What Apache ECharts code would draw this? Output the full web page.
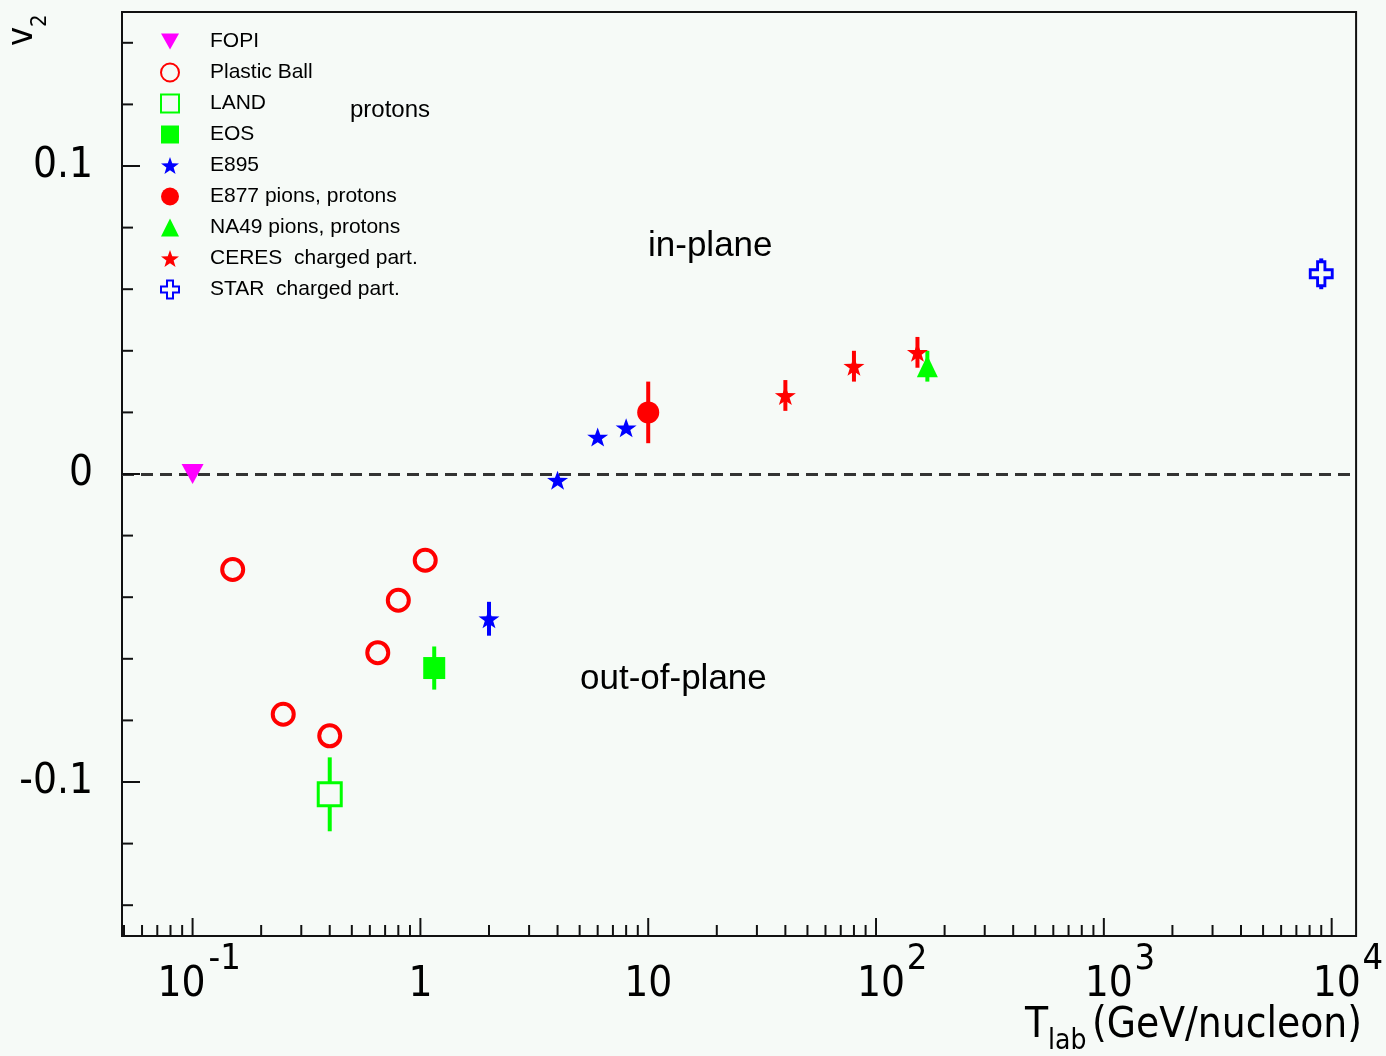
<!DOCTYPE html>
<html>
<head>
<meta charset="utf-8">
<script src="https://cdn.jsdelivr.net/npm/echarts@6/dist/echarts.min.js"></script>
<style>
  html, body { margin: 0; padding: 0; background: #f6faf7; }
  #chart { width: 1386px; height: 1056px; }
</style>
</head>
<body>
<div id="chart"></div>
<script>
// Elliptic flow v2 versus beam kinetic energy per nucleon
const fopiX = [0.1];
const fopiV = [0.0];
const plasticX = [0.15, 0.25, 0.40, 0.65, 0.80, 1.05];
const plasticV = [-0.031, -0.078, -0.085, -0.058, -0.041, -0.028];
const landX = [0.4];
const landV = [-0.104];
const landErr = [0.012];
const eosX = [1.15];
const eosV = [-0.063];
const eosErr = [0.007];
const e895X = [2, 4, 6, 8];
const e895V = [-0.047, -0.002, 0.012, 0.015];
const e895Err = [0.0055, 0, 0, 0];
const e877X = [10];
const e877V = [0.020];
const e877Err = [0.010];
const na49X = [168];
const na49V = [0.035];
const na49Err = [0.005];
const ceresX = [40, 80, 152];
const ceresV = [0.0255, 0.035, 0.0395];
const ceresErr = [0.005, 0.005, 0.005];
const starX = [9000];
const starV = [0.065];
const starErr = [0.005];

// axes
const xRange = [0.049, 12800];
const yRange = [-0.15, 0.15];
const xMajorTicks = [0.1, 1, 10, 100, 1000, 10000];
const xTickBase = ['10', '1', '10', '10', '10', '10'];
const xTickExp = ['-1', '', '', '2', '3', '4'];
const xMinorMantissa = [2, 3, 4, 5, 6, 7, 8, 9];
const xDecades = [0.01, 0.1, 1, 10, 100, 1000];
const yMajorTicks = [-0.1, 0, 0.1];
const yTickLabels = ['-0.1', '0', '0.1'];
const yMinorTicks = [-0.14, -0.12, -0.08, -0.06, -0.04, -0.02, 0.02, 0.04, 0.06, 0.08, 0.12, 0.14];

const legendNames = ['FOPI', 'Plastic Ball', 'LAND', 'EOS', 'E895',
  'E877 pions, protons', 'NA49 pions, protons', 'CERES  charged part.', 'STAR  charged part.'];

const BG = '#f6faf7';
const RED = '#ff0000', GREEN = '#00ff00', BLUE = '#0000ff', MAGENTA = '#ff00ff';
const NARROW = "'Liberation Sans Narrow', 'DejaVu Sans Condensed', 'Liberation Sans', sans-serif";
const SANS = "'Liberation Sans', Arial, sans-serif";

const STAR_PATH = 'path://M10,0L12.35,6.76L19.51,6.91L13.8,11.24L15.88,18.09L10,14L4.12,18.09L6.2,11.24L0.49,6.91L7.65,6.76Z';
const DOWN_TRI = 'path://M0,0L20,0L10,18Z';
const CROSS_PATH = 'path://M8,0H16V8H24V16H16V24H8V16H0V8H8Z';

const xMinorTicks = [];
xDecades.forEach(d => xMinorMantissa.forEach(m => {
  const v = m * d;
  if (v > xRange[0] && v < xRange[1]) xMinorTicks.push(v);
}));

function pts(xs, vs) { return xs.map((x, i) => [x, vs[i]]); }

function errSeries(xs, vs, es, color) {
  return {
    type: 'custom', silent: true, z: 1,
    data: xs.map((x, i) => [x, vs[i], es[i]]),
    renderItem: (params, api) => {
      const x = api.value(0), y = api.value(1), e = api.value(2);
      if (!e) return { type: 'group', children: [] };
      const a = api.coord([x, y - e]), b = api.coord([x, y + e]);
      return { type: 'line', shape: { x1: a[0], y1: a[1], x2: b[0], y2: b[1] },
               style: { stroke: color, lineWidth: 4 } };
    }
  };
}

function xTickSeries(values, len) {
  return {
    type: 'custom', silent: true, z: 6, clip: false,
    data: values.map(v => [v, yRange[0]]),
    renderItem: (params, api) => {
      const p = api.coord([api.value(0), api.value(1)]);
      return { type: 'line', shape: { x1: p[0], y1: p[1], x2: p[0], y2: p[1] - len },
               style: { stroke: '#111', lineWidth: 2 } };
    }
  };
}

function yTickSeries(values, len) {
  return {
    type: 'custom', silent: true, z: 6, clip: false,
    data: values.map(v => [xRange[0], v]),
    renderItem: (params, api) => {
      const p = api.coord([api.value(0), api.value(1)]);
      return { type: 'line', shape: { x1: p[0], y1: p[1], x2: p[0] + len, y2: p[1] },
               style: { stroke: '#111', lineWidth: 2 } };
    }
  };
}

const chart = echarts.init(document.getElementById('chart'), null, { renderer: 'canvas' });

chart.setOption({
  backgroundColor: BG,
  animation: false,
  grid: { left: 122, right: 28, top: 12, bottom: 120, show: true, borderColor: '#111', borderWidth: 2, backgroundColor: 'transparent' },
  xAxis: {
    type: 'log', logBase: 10, min: xRange[0], max: xRange[1],
    axisLine: { show: false }, axisTick: { show: false }, splitLine: { show: false },
    axisLabel: {
      margin: 26,
      formatter: v => {
        const i = xMajorTicks.findIndex(t => Math.abs(Math.log10(t) - Math.log10(v)) < 1e-6);
        if (i < 0) return '';
        const exp = xTickExp[i];
        if (!exp) return '{b|' + xTickBase[i] + '}';
        return (exp.length > 1 ? '{pw| }' : '{p| }') + '{b|' + xTickBase[i] + '}' + (exp.length > 1 ? '{sw|' : '{s|') + exp + '}';
      },
      rich: {
        b: { fontFamily: NARROW, fontSize: 42, lineHeight: 44, padding: [20, 0, 0, 0], color: '#000', verticalAlign: 'bottom' },
        s: { fontFamily: NARROW, fontSize: 36, lineHeight: 36, padding: [0, 0, 28, 2], width: 20, color: '#000', verticalAlign: 'bottom' },
        sw: { fontFamily: NARROW, fontSize: 36, lineHeight: 36, padding: [0, 0, 28, 4], width: 30, color: '#000', verticalAlign: 'bottom' },
        p: { width: 32, lineHeight: 44, fontSize: 10 },
        pw: { width: 12, lineHeight: 44, fontSize: 10 }
      }
    }
  },
  yAxis: {
    type: 'value', min: yRange[0], max: yRange[1], interval: 0.05,
    axisLine: { show: false }, axisTick: { show: false }, splitLine: { show: false },
    axisLabel: {
      margin: 29, fontFamily: NARROW, fontSize: 42, color: '#000',
      formatter: v => {
        const i = yMajorTicks.findIndex(t => Math.abs(t - v) < 1e-9);
        return i < 0 ? '' : yTickLabels[i];
      }
    }
  },
  legend: {
    data: legendNames, orient: 'vertical', left: 155, top: 26,
    itemWidth: 18, itemHeight: 18, itemGap: 10, selectedMode: false,
    textStyle: { fontFamily: SANS, fontSize: 21, color: '#000', lineHeight: 20, padding: [0, 0, 0, 26] }
  },
  graphic: [
    { type: 'text', x: 350, y: 110, silent: true,
      style: { text: 'protons', font: '24px ' + SANS, fill: '#000', textAlign: 'left', textVerticalAlign: 'middle' } },
    { type: 'text', x: 648, y: 246, silent: true,
      style: { text: 'in-plane', font: '35px ' + SANS, fill: '#000', textAlign: 'left', textVerticalAlign: 'middle' } },
    { type: 'text', x: 580, y: 679, silent: true,
      style: { text: 'out-of-plane', font: '35px ' + SANS, fill: '#000', textAlign: 'left', textVerticalAlign: 'middle' } },
    { type: 'text', x: 23, y: 46, rotation: Math.PI / 2, silent: true,
      style: { text: 'v', font: '36px ' + NARROW, fill: '#000', textAlign: 'left', textVerticalAlign: 'middle' } },
    { type: 'text', x: 40, y: 27, rotation: Math.PI / 2, silent: true,
      style: { text: '2', font: '22px ' + NARROW, fill: '#000', textAlign: 'left', textVerticalAlign: 'middle' } },
    { type: 'text', x: 1025, y: 1026, silent: true,
      style: { text: 'T', font: '42px ' + NARROW, fill: '#000', textAlign: 'left', textVerticalAlign: 'middle' } },
    { type: 'text', x: 1048, y: 1042, silent: true,
      style: { text: 'lab', font: '28px ' + NARROW, fill: '#000', textAlign: 'left', textVerticalAlign: 'middle' } },
    { type: 'text', x: 1362, y: 1026, silent: true,
      style: { text: '(GeV/nucleon)', font: '42px ' + NARROW, fill: '#000', textAlign: 'right', textVerticalAlign: 'middle' } }
  ],
  series: [
    xTickSeries(xMajorTicks, 18),
    xTickSeries(xMinorTicks, 11),
    yTickSeries(yMajorTicks, 18),
    yTickSeries(yMinorTicks, 11),
    errSeries(landX, landV, landErr, GREEN),
    errSeries(eosX, eosV, eosErr, GREEN),
    errSeries(e895X, e895V, e895Err, BLUE),
    errSeries(e877X, e877V, e877Err, RED),
    errSeries(na49X, na49V, na49Err, GREEN),
    errSeries(ceresX, ceresV, ceresErr, RED),
    errSeries(starX, starV, starErr, BLUE),
    {
      name: 'FOPI', type: 'scatter', z: 3, data: pts(fopiX, fopiV),
      symbol: DOWN_TRI, symbolSize: [22, 20], itemStyle: { color: MAGENTA, opacity: 1 },
      markLine: {
        silent: true, symbol: ['none', 'none'], label: { show: false }, z: 2,
        lineStyle: { type: [12, 7], color: '#333', width: 3 },
        data: [{ yAxis: 0 }]
      }
    },
    {
      name: 'Plastic Ball', type: 'scatter', z: 3, data: pts(plasticX, plasticV),
      symbol: 'circle', symbolSize: 21, itemStyle: { color: BG, borderColor: RED, borderWidth: 4, opacity: 1 }
    },
    {
      name: 'LAND', type: 'scatter', z: 3, data: pts(landX, landV),
      symbol: 'rect', symbolSize: 23, itemStyle: { color: BG, borderColor: GREEN, borderWidth: 3, opacity: 1 }
    },
    {
      name: 'EOS', type: 'scatter', z: 3, data: pts(eosX, eosV),
      symbol: 'rect', symbolSize: 22, itemStyle: { color: GREEN, opacity: 1 }
    },
    {
      name: 'E895', type: 'scatter', z: 3, data: pts(e895X, e895V),
      symbol: STAR_PATH, symbolSize: [21, 19], itemStyle: { color: BLUE, opacity: 1 }
    },
    {
      name: 'E877 pions, protons', type: 'scatter', z: 3, data: pts(e877X, e877V),
      symbol: 'circle', symbolSize: 22, itemStyle: { color: RED, opacity: 1 }
    },
    {
      name: 'NA49 pions, protons', type: 'scatter', z: 3, data: pts(na49X, na49V),
      symbol: 'triangle', symbolSize: [21, 22], itemStyle: { color: GREEN, opacity: 1 }
    },
    {
      name: 'CERES  charged part.', type: 'scatter', z: 3, data: pts(ceresX, ceresV),
      symbol: STAR_PATH, symbolSize: [21, 19], itemStyle: { color: RED, opacity: 1 }
    },
    {
      name: 'STAR  charged part.', type: 'scatter', z: 3, data: pts(starX, starV),
      symbol: CROSS_PATH, symbolSize: [22, 24], itemStyle: { color: BG, borderColor: BLUE, borderWidth: 3, opacity: 1 }
    }
  ]
});
</script>
</body>
</html>
